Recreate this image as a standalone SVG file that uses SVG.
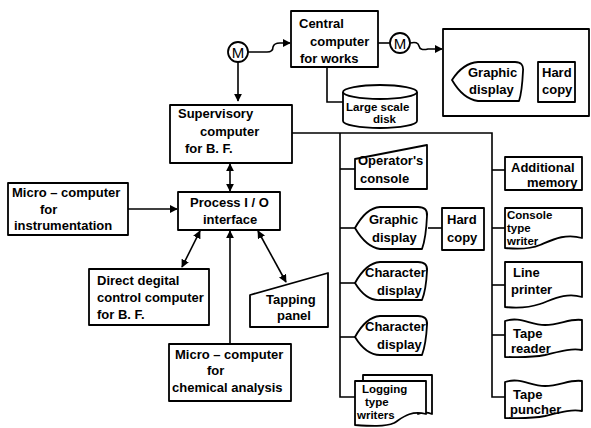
<svg xmlns="http://www.w3.org/2000/svg" width="591" height="428" viewBox="0 0 591 428">
<defs>
<style>
.b{fill:#fff;stroke:#000;stroke-width:1.8;stroke-linejoin:round}
.l{fill:none;stroke:#000;stroke-width:1.6}
text{font-family:"Liberation Sans",Arial,sans-serif;font-weight:bold;font-size:13px;fill:#000}
.s{font-size:11.5px}
.m{font-size:15px;font-weight:normal;text-anchor:middle}
</style>
<marker id="ah" viewBox="0 0 10 10" refX="9" refY="5" markerWidth="8" markerHeight="8" markerUnits="userSpaceOnUse" orient="auto-start-reverse">
<path d="M0,0 L10,5 L0,10 Z" fill="#000"/>
</marker>
</defs>
<rect width="591" height="428" fill="#fff"/>
<g id="connectors">
<path class="l" d="M238,62 V101" marker-end="url(#ah)"/>
<path class="l" d="M248,52 H267 Q273,52 273,47 Q274,43 280,43 H290" marker-end="url(#ah)"/>
<path class="l" d="M378,43 H390"/>
<path class="l" d="M410,43 Q418,41 419,46 Q420,51 428,49 H442" marker-end="url(#ah)"/>
<path class="l" d="M327,67 V102 H343"/>
<path class="l" d="M443,80 H452"/>
<path class="l" d="M523,80 H538"/>
<path class="l" d="M230,164 V191" marker-start="url(#ah)" marker-end="url(#ah)"/>
<path class="l" d="M128,209 H177" marker-end="url(#ah)"/>
<path class="l" d="M200,231 L182,267" marker-start="url(#ah)" marker-end="url(#ah)"/>
<path class="l" d="M230,343 V231" marker-end="url(#ah)"/>
<path class="l" d="M258,231 L286,282" marker-start="url(#ah)" marker-end="url(#ah)"/>
<path class="l" d="M292,133 H492 V397 H505"/>
<path class="l" d="M340,133 V397 H355"/>
<path class="l" d="M340,169 H355"/>
<path class="l" d="M340,228 H355"/>
<path class="l" d="M428,228 H442"/>
<path class="l" d="M340,283 H355"/>
<path class="l" d="M340,337 H355"/>
<path class="l" d="M492,170 H505"/>
<path class="l" d="M492,228 H505"/>
<path class="l" d="M492,285 H505"/>
<path class="l" d="M492,335 H505"/>
</g>
<g id="m1"><circle class="b" cx="238" cy="52" r="10"/><text class="m" x="238" y="57.5">M</text></g>
<g id="m2"><circle class="b" cx="400" cy="43" r="10"/><text class="m" x="400" y="48.5">M</text></g>
<g id="central"><rect class="b" x="291" y="11" width="87" height="56"/>
<text x="299" y="28">Central</text><text x="310" y="46">computer</text><text x="300" y="63">for  works</text></g>
<g id="disk"><path class="b" d="M343,92 V121 A37,7 0 0 0 417,121 V92"/><ellipse class="b" cx="380" cy="92" rx="37" ry="7"/>
<text class="s" x="346" y="111">Large scale</text><text class="s" x="373" y="123">disk</text></g>
<g id="remote"><rect class="b" x="443" y="29" width="146" height="87"/>
<path class="b" d="M452,80 Q463,63 478,62 H515 Q524,62 523,71 Q522,92 519,101 H478 Q463,99 452,80 Z"/>
<text x="468" y="77">Graphic</text><text x="469" y="94">display</text>
<rect class="b" x="538" y="62" width="37" height="40"/>
<text x="542" y="77">Hard</text><text x="542" y="94">copy</text></g>
<g id="supervisory"><rect class="b" x="170" y="105" width="122" height="58"/>
<text x="178" y="118">Supervisory</text><text x="200" y="136">computer</text><text x="185" y="153">for   B. F.</text></g>
<g id="instr"><rect class="b" x="8" y="183" width="120" height="52"/>
<text x="12" y="197">Micro – computer</text><text x="40" y="214">for</text><text x="14" y="230">instrumentation</text></g>
<g id="pio"><rect class="b" x="178" y="192" width="102" height="38"/>
<text x="190" y="207">Process I / O</text><text x="203" y="224">interface</text></g>
<g id="ddc"><rect class="b" x="89" y="269" width="120" height="56"/>
<text x="97" y="285">Direct  degital</text><text x="97" y="302">control computer</text><text x="97" y="319">for   B. F.</text></g>
<g id="tapping"><path class="b" d="M250,295 L328,273 V327 H250 Z"/>
<text x="266" y="304">Tapping</text><text x="277" y="320">panel</text></g>
<g id="chem"><rect class="b" x="169" y="344" width="122" height="57"/>
<text x="175" y="359">Micro – computer</text><text x="207" y="375">for</text><text x="172" y="392">chemical analysis</text></g>
<g id="operator"><path class="b" d="M355,159 L427,145 V189 H355 Z"/>
<text x="358" y="165">Operator's</text><text x="360" y="183">console</text></g>
<g id="gdisp"><path class="b" d="M355,228 Q366,208 380,207 H418 Q428,207 427,216 Q426,238 422,249 H380 Q366,247 355,228 Z"/>
<text x="369" y="224">Graphic</text><text x="372" y="242">display</text></g>
<g id="hcopy"><rect class="b" x="442" y="208" width="42" height="42"/>
<text x="447" y="224">Hard</text><text x="447" y="242">copy</text></g>
<g id="cdisp1"><path class="b" d="M355,283 Q366,263 380,262 H418 Q428,262 427,271 Q426,290 422,300 H380 Q366,301 355,283 Z"/>
<text x="365" y="277">Character</text><text x="377" y="295">display</text></g>
<g id="cdisp2"><path class="b" d="M355,337 Q366,317 380,316 H418 Q428,316 427,325 Q426,344 422,355 H380 Q366,355 355,337 Z"/>
<text x="365" y="331">Character</text><text x="377" y="349">display</text></g>
<g id="logging"><path class="b" d="M363,375 H432 V414 Q425,411 418,414 V381 H363 Z"/>
<path class="b" d="M355,381 H426 V414 C410,410 402,418 394,423 C385,427 370,426 355,425 Z"/>
<text class="s" x="362" y="393">Logging</text><text class="s" x="365" y="406">type</text><text class="s" x="357" y="419">writers</text></g>
<g id="addmem"><rect class="b" x="505" y="157" width="77" height="33"/>
<text x="511" y="172">Additional</text><text x="527" y="187">memory</text></g>
<g id="ctw"><path class="b" d="M505,208 H582 V238 C565,233 552,240 540,245 C528,250 515,249 505,248 Z"/>
<text class="s" x="507" y="219">Console</text><text class="s" x="507" y="232">type</text><text class="s" x="507" y="245">writer</text></g>
<g id="lprinter"><path class="b" d="M505,262 H582 V297 C565,292 552,300 540,304 C528,308 515,308 505,307 Z"/>
<text x="513" y="277">Line</text><text x="511" y="294">printer</text></g>
<g id="treader"><path class="b" d="M505,321 C520,316 530,325 545,325 C560,325 570,318 582,320 V350 C570,348 558,352 545,355 C530,358 518,357 505,357 Z"/>
<text x="513" y="338">Tape</text><text x="511" y="353">reader</text></g>
<g id="tpuncher"><path class="b" d="M505,382 C520,377 530,386 545,386 C560,386 570,379 582,381 V411 C570,409 558,413 545,416 C530,419 518,418 505,418 Z"/>
<text x="513" y="399">Tape</text><text x="510" y="414">puncher</text></g>
</svg>
